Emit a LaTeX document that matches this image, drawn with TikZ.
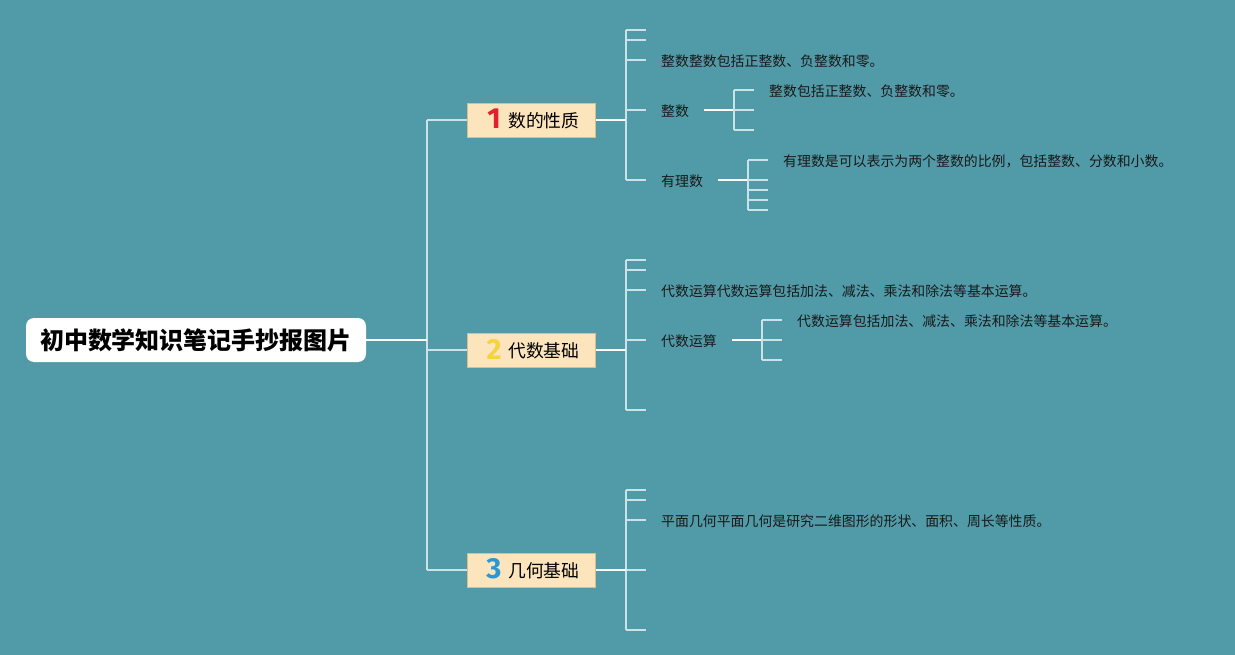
\documentclass[tikz,border=0pt]{standalone}
\usepackage{fontspec}
\setmainfont{Noto Sans CJK SC}
\newfontfamily\numfont{Fira Sans}
\definecolor{bgc}{HTML}{519BA8}
\definecolor{boxc}{HTML}{FCE5BC}
\definecolor{boxd}{HTML}{D9BE8C}
\definecolor{tickc}{HTML}{C9E3E8}
\definecolor{nred}{HTML}{E0202B}
\definecolor{nyel}{HTML}{F4D43E}
\definecolor{nblu}{HTML}{2A98D6}
\tikzset{
  rootbox/.style={fill=white,rounded corners=8pt,minimum width=340pt,minimum height=44pt,inner sep=0pt,font=\fontsize{24}{26}\selectfont\bfseries},
  topicbox/.style={fill=boxc,draw=boxd,line width=0.8pt,minimum width=128pt,minimum height=34pt,inner sep=0pt},
  topictext/.style={anchor=west,inner sep=0pt,yshift=-1.2pt,font=\fontsize{17.8}{20}\selectfont},
  topicnum/.style={inner sep=0pt,font=\numfont\fontsize{29}{30}\selectfont\bfseries},
  leaf/.style={anchor=west,inner sep=0pt,yshift=-1.3pt,font=\fontsize{13.9}{16}\selectfont,text=black!90},
  mainline/.style={draw=white,line width=2pt},
  tickline/.style={draw=tickc,line width=1.6pt}
}
\begin{document}
\begin{tikzpicture}[x=1pt,y=-1pt]
\useasboundingbox (0,0) rectangle (1235,655);
\fill[bgc] (0,0) rectangle (1235,655);

% root
\node[rootbox] (root) at (196,340) {初中数学知识笔记手抄报图片};

% topics
\node[topicbox] (b1) at (531.5,120) {};
\node[topicnum,text=nred] (n1) at (494,119) {1};
\node[topictext] (t1) at (508,120) {数的性质};
\node[topicbox] (b2) at (531.5,350) {};
\node[topicnum,text=nyel] (n2) at (494,349) {2};
\node[topictext] (t2) at (508,350) {代数基础};
\node[topicbox] (b3) at (531.5,570) {};
\node[topicnum,text=nblu] (n3) at (494,569) {3};
\node[topictext] (t3) at (508,570) {几何基础};

% trunk
\coordinate (j0) at (427,340);
\coordinate (j1) at (427,120);
\coordinate (j2) at (427,350);
\coordinate (j3) at (427,570);
\draw[tickline] (j1) -- (j3);
\draw[tickline] (j1) -- (b1.west);
\draw[tickline] (j2) -- (b2.west);
\draw[tickline] (j3) -- (b3.west);
\draw[mainline] (root.east) -- (j0);

% ---------- branch 1 ----------
\coordinate (k1) at (626,120);
\draw[tickline] (626,30) -- (626,180);
\foreach \yy in {30,40,60,110,180} \draw[tickline] (626,\yy) -- (646,\yy);
\draw[mainline] (b1.east) -- (k1);
\node[leaf] (l11) at (661,60) {整数整数包括正整数、负整数和零。};
\node[leaf] (l12) at (661,110) {整数};
\node[leaf] (l13) at (661,180) {有理数};
% sub of 整数
\coordinate (s12) at (734,110);
\draw[mainline] (704,110) -- (s12);
\draw[tickline] (734,90) -- (734,130);
\foreach \yy in {90,110,130} \draw[tickline] (734,\yy) -- (754,\yy);
\node[leaf] (l121) at (769,90) {整数包括正整数、负整数和零。};
% sub of 有理数
\coordinate (s13) at (748,180);
\draw[mainline] (718,180) -- (s13);
\draw[tickline] (748,160) -- (748,210);
\foreach \yy in {160,180,190,200,210} \draw[tickline] (748,\yy) -- (768,\yy);
\node[leaf] (l131) at (783,160) {有理数是可以表示为两个整数的比例，包括整数、分数和小数。};

% ---------- branch 2 ----------
\coordinate (k2) at (626,350);
\draw[tickline] (626,260) -- (626,410);
\foreach \yy in {260,270,290,340,410} \draw[tickline] (626,\yy) -- (646,\yy);
\draw[mainline] (b2.east) -- (k2);
\node[leaf] (l21) at (661,290) {代数运算代数运算包括加法、减法、乘法和除法等基本运算。};
\node[leaf] (l22) at (661,340) {代数运算};
\coordinate (s22) at (762,340);
\draw[mainline] (732,340) -- (s22);
\draw[tickline] (762,320) -- (762,360);
\foreach \yy in {320,340,360} \draw[tickline] (762,\yy) -- (782,\yy);
\node[leaf] (l221) at (797,320) {代数运算包括加法、减法、乘法和除法等基本运算。};

% ---------- branch 3 ----------
\coordinate (k3) at (626,570);
\draw[tickline] (626,490) -- (626,630);
\foreach \yy in {490,500,520,570,630} \draw[tickline] (626,\yy) -- (646,\yy);
\draw[mainline] (b3.east) -- (k3);
\node[leaf] (l31) at (661,520) {平面几何平面几何是研究二维图形的形状、面积、周长等性质。};
\end{tikzpicture}
\end{document}
